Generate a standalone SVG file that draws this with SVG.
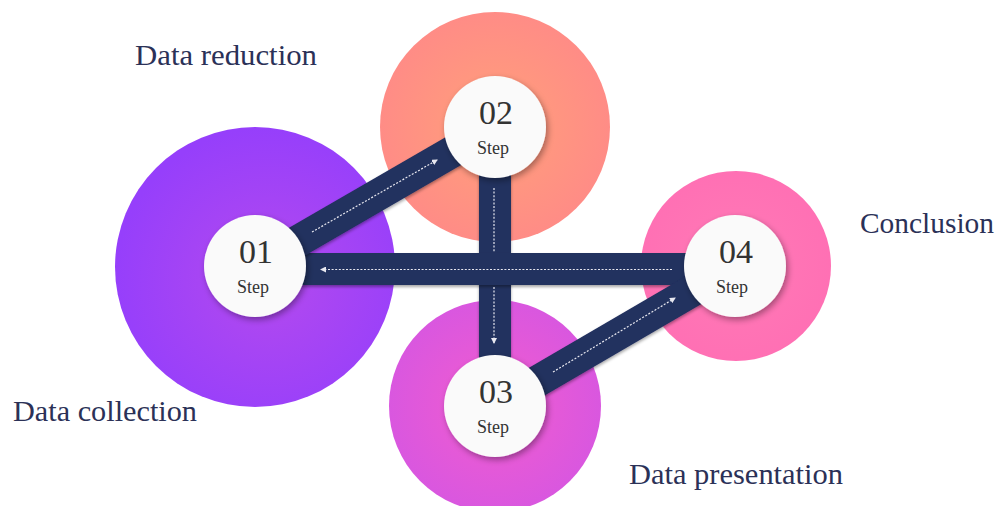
<svg xmlns="http://www.w3.org/2000/svg" width="1001" height="506" viewBox="0 0 1001 506">
  <defs>
    <radialGradient id="gPurple" cx="0.55" cy="0.55" r="0.55">
      <stop offset="0" stop-color="#b44aee"/>
      <stop offset="1" stop-color="#963ffb"/>
    </radialGradient>
    <radialGradient id="gOrange" cx="0.5" cy="0.5" r="0.5">
      <stop offset="0" stop-color="#ffa07a"/>
      <stop offset="1" stop-color="#ff8c86"/>
    </radialGradient>
    <radialGradient id="gPink" cx="0.5" cy="0.5" r="0.5">
      <stop offset="0" stop-color="#ff7ab6"/>
      <stop offset="1" stop-color="#ff70b4"/>
    </radialGradient>
    <radialGradient id="gMagenta" cx="0.5" cy="0.5" r="0.5">
      <stop offset="0" stop-color="#f25ccf"/>
      <stop offset="1" stop-color="#d957df"/>
    </radialGradient>
    <filter id="shadow" x="-30%" y="-30%" width="160%" height="160%">
      <feDropShadow dx="2" dy="3" stdDeviation="3" flood-color="#000" flood-opacity="0.35"/>
    </filter>
    <filter id="barShadow" filterUnits="userSpaceOnUse" x="0" y="0" width="1001" height="506">
      <feDropShadow dx="0" dy="2" stdDeviation="1.5" flood-color="#000" flood-opacity="0.35"/>
    </filter>
    <marker id="arrow" viewBox="0 0 6 6" refX="5" refY="3" markerWidth="6" markerHeight="6" markerUnits="userSpaceOnUse" orient="auto">
      <path d="M0,0 L6,3 L0,6 Z" fill="#e8e8f0"/>
    </marker>
  </defs>
  <style>
    .bar { stroke: #22305f; stroke-width: 32; stroke-linecap: butt; fill: none; filter: url(#barShadow); }
    .dash { stroke: #e8e8f0; stroke-width: 1.2; stroke-dasharray: 2 1.6; fill: none; }
    .flow { marker-end: url(#arrow); }
    .disc { fill: #fafafa; filter: url(#shadow); }
    .num { font-family: "Liberation Serif", "Times New Roman", serif; font-size: 34px; fill: #333333; text-anchor: middle; }
    .step { font-family: "Liberation Serif", "Times New Roman", serif; font-size: 18px; fill: #333333; text-anchor: middle; }
    .label { font-family: "Liberation Serif", "Times New Roman", serif; font-size: 29px; fill: #2b3157; }
  </style>

  <rect width="1001" height="506" fill="#ffffff"/>

  <g id="backgrounds">
    <circle cx="255" cy="267" r="140" fill="url(#gPurple)"/>
    <circle cx="495" cy="127" r="115" fill="url(#gOrange)"/>
    <circle cx="736" cy="266" r="95" fill="url(#gPink)"/>
    <circle cx="495" cy="406" r="106" fill="url(#gMagenta)"/>
  </g>

  <g id="connectors">
    <line class="bar" x1="495" y1="127" x2="495" y2="406"/>
    <line class="bar" x1="255" y1="269" x2="735" y2="269"/>
    <line class="bar" x1="255" y1="266" x2="495" y2="127"/>
    <line class="bar" x1="495" y1="406" x2="735" y2="266"/>
    <line class="dash flow" x1="312" y1="232" x2="437" y2="160"/>
    <line class="dash" x1="494" y1="188" x2="494" y2="252"/>
    <line class="dash flow" x1="494" y1="287" x2="494" y2="343"/>
    <line class="dash flow" x1="672" y1="269.5" x2="321" y2="269.5"/>
    <line class="dash flow" x1="553" y1="372" x2="675" y2="298"/>
  </g>

  <g id="step01">
    <circle class="disc" cx="255" cy="266" r="51"/>
    <text class="num" x="256" y="263">01</text>
    <text class="step" x="253" y="293">Step</text>
  </g>
  <g id="step02">
    <circle class="disc" cx="495" cy="127" r="51"/>
    <text class="num" x="496" y="124">02</text>
    <text class="step" x="493" y="154">Step</text>
  </g>
  <g id="step03">
    <circle class="disc" cx="495" cy="406" r="51"/>
    <text class="num" x="496" y="403">03</text>
    <text class="step" x="493" y="433">Step</text>
  </g>
  <g id="step04">
    <circle class="disc" cx="735" cy="266" r="51"/>
    <text class="num" x="736" y="263">04</text>
    <text class="step" x="732" y="293">Step</text>
  </g>

  <g id="labels">
    <text class="label" x="135" y="65" textLength="182" lengthAdjust="spacingAndGlyphs">Data reduction</text>
    <text class="label" x="13" y="421" textLength="184" lengthAdjust="spacingAndGlyphs">Data collection</text>
    <text class="label" x="860" y="233" textLength="134" lengthAdjust="spacingAndGlyphs">Conclusion</text>
    <text class="label" x="629" y="484" textLength="214" lengthAdjust="spacingAndGlyphs">Data presentation</text>
  </g>
</svg>
